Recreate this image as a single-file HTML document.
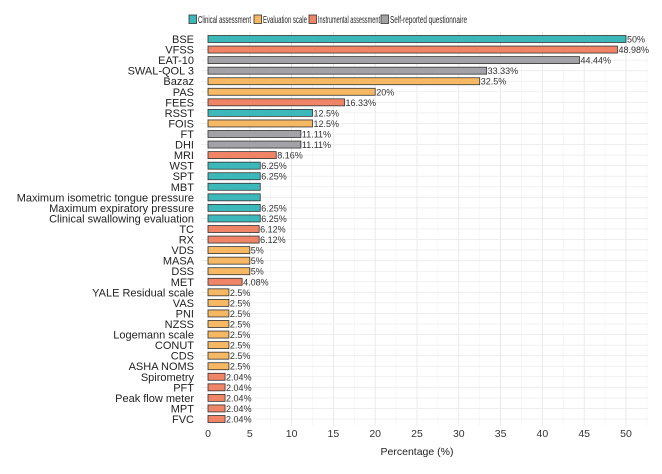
<!DOCTYPE html>
<html><head><meta charset="utf-8"><style>
body{margin:0;background:#fff;font-family:"Liberation Sans",sans-serif}
svg text{font-family:"Liberation Sans",sans-serif}
</style></head><body>
<svg id="c" width="662" height="469"></svg>
<script>
const categories=["BSE","VFSS","EAT-10","SWAL-QOL 3","Bazaz","PAS","FEES","RSST","FOIS","FT","DHI","MRI","WST","SPT","MBT","Maximum isometric tongue pressure","Maximum expiratory pressure","Clinical swallowing evaluation","TC","RX","VDS","MASA","DSS","MET","YALE Residual scale","VAS","PNI","NZSS","Logemann scale","CONUT","CDS","ASHA NOMS","Spirometry","PFT","Peak flow meter","MPT","FVC"];
const values=[50,48.98,44.44,33.33,32.5,20,16.33,12.5,12.5,11.11,11.11,8.16,6.25,6.25,6.25,6.25,6.25,6.25,6.12,6.12,5,5,5,4.08,2.5,2.5,2.5,2.5,2.5,2.5,2.5,2.5,2.04,2.04,2.04,2.04,2.04];
const labels=["50%","48.98%","44.44%","33.33%","32.5%","20%","16.33%","12.5%","12.5%","11.11%","11.11%","8.16%","6.25%","6.25%","","","6.25%","6.25%","6.12%","6.12%","5%","5%","5%","4.08%","2.5%","2.5%","2.5%","2.5%","2.5%","2.5%","2.5%","2.5%","2.04%","2.04%","2.04%","2.04%","2.04%"];
const groups=["C","I","S","S","E","E","I","C","E","S","S","I","C","C","C","C","C","C","I","I","E","E","E","I","E","E","E","E","E","E","E","E","I","I","I","I","I"];
const xTicks=[0,5,10,15,20,25,30,35,40,45,50];
const legendNames=["Clinical assessment","Evaluation scale","Instrumental assessment","Self-reported questionnaire"];
const legendKeys=["C","E","I","S"];
const colors={C:"#3db8ba",E:"#f6b862",I:"#f08466",S:"#a3a3a7"};
const svg=document.getElementById('c');const NS="http://www.w3.org/2000/svg";
function mk(t,a,p){const e=document.createElementNS(NS,t);for(const k in a)e.setAttribute(k,a[k]);(p||svg).appendChild(e);return e;}
const L=201,R=648,T=32,B=426;
const x=v=>208+v*8.36;
const n=categories.length;const step=(419-39)/(n-1);
const y=i=>39+i*step;
for(let v=0;v<=52.5;v+=2.5){const g=mk('line',{x1:x(v),x2:x(v),y1:T,y2:B,stroke:v%5===0?'#e6e6e6':'#f2f2f2','stroke-width':v%5===0?0.8:0.5});}
categories.forEach((c,i)=>{const g=mk('line',{x1:L,x2:R,y1:y(i),y2:y(i),stroke:'#ececec','stroke-width':0.8});});
categories.forEach((c,i)=>{
 const b=mk('rect',{x:x(0),y:y(i)-3.5,width:x(values[i])-x(0),height:7,fill:colors[groups[i]],stroke:'#333','stroke-width':0.8});
 
 
 const t=mk('text',{x:194,y:y(i)+4,'text-anchor':'end','font-size':11,fill:'#222'});t.textContent=c;
 
 if(labels[i]){const v=mk('text',{x:x(values[i])+1,y:y(i)+3.5,'font-size':9,fill:'#333'});v.textContent=labels[i];
 }
});
xTicks.forEach(v=>{const t=mk('text',{x:x(v),y:437,'text-anchor':'middle','font-size':10.5,fill:'#333'});t.textContent=v;
 });
const at=mk('text',{x:417,y:455,'text-anchor':'middle','font-size':10.5,fill:'#222'});at.textContent='Percentage (%)';

const legX=[189,254,309,381];const legW=[53,44,62,77];
legendNames.forEach((nm,i)=>{
 const lx=legX[i];
 const r=mk('rect',{x:lx,y:15,width:7.5,height:8.5,fill:colors[legendKeys[i]],stroke:'#333','stroke-width':0.8});
 
 const t=mk('text',{x:lx+9,y:23,'font-size':10,fill:'#222',textLength:legW[i],lengthAdjust:'spacingAndGlyphs'});t.textContent=nm;
 
});
</script>
</body></html>
